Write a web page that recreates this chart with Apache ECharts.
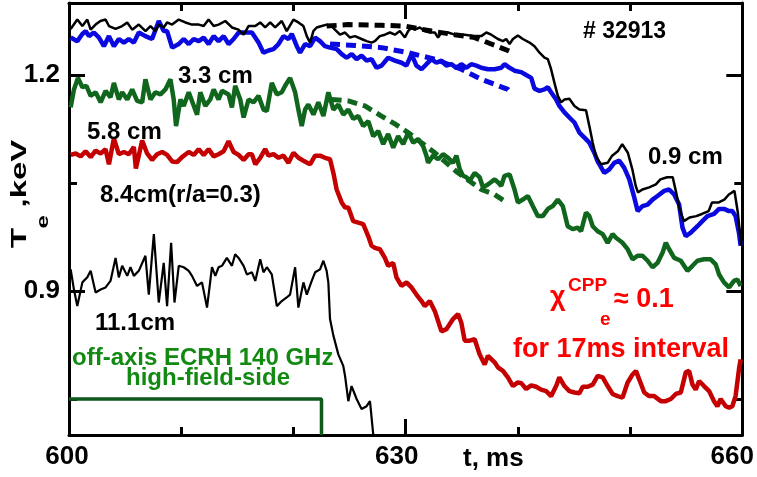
<!DOCTYPE html>
<html><head><meta charset="utf-8">
<script src="https://cdn.jsdelivr.net/npm/echarts@6/dist/echarts.min.js"></script>
<style>html,body{margin:0;padding:0;background:#fff}#c{width:757px;height:477px}</style>
</head><body><div id="c"></div>
<script>
// ---- tick values ----
const xTickLabels = [600, 630, 660];
const yMajorTicks = [0.9, 1.2];
const yMinorTicks = [0.75, 1.05];

// ---- series data: [t (ms), Te (keV)] ----
const te09 = [[600.15,1.264],[600.74,1.277],[601.19,1.268],[601.63,1.277],[601.93,1.263],[602.37,1.270],[602.8,1.275],[603.26,1.277],[603.56,1.268],[604.15,1.264],[604.74,1.268],[605.19,1.273],[605.63,1.263],[606.22,1.270],[606.82,1.261],[607.26,1.268],[607.7,1.261],[608.0,1.270],[608.44,1.266],[608.74,1.273],[609.19,1.270],[609.78,1.277],[610.37,1.273],[610.96,1.270],[611.56,1.270],[612.0,1.268],[612.44,1.277],[612.89,1.268],[613.33,1.270],[613.93,1.275],[614.52,1.266],[615.1,1.263],[615.56,1.256],[616.0,1.268],[616.6,1.268],[617.04,1.273],[617.48,1.266],[617.93,1.273],[618.37,1.266],[618.96,1.275],[619.4,1.261],[620.0,1.277],[620.44,1.273],[620.89,1.268],[621.19,1.254],[621.48,1.245],[621.78,1.261],[622.07,1.266],[622.52,1.268],[622.96,1.270],[623.4,1.268],[623.7,1.263],[624.15,1.256],[624.6,1.259],[625.04,1.252],[625.48,1.254],[626.07,1.250],[626.52,1.247],[626.96,1.245],[627.26,1.247],[627.7,1.254],[628.15,1.256],[628.6,1.259],[629.04,1.256],[629.48,1.261],[629.93,1.252],[630.22,1.261],[630.52,1.266],[630.81,1.263],[631.26,1.266],[631.7,1.261],[632.15,1.259],[632.6,1.259],[632.89,1.252],[633.19,1.259],[633.78,1.259],[634.37,1.256],[635.26,1.256],[636.15,1.254],[636.74,1.254],[637.19,1.259],[637.63,1.256],[638.22,1.250],[638.67,1.247],[638.96,1.250],[639.26,1.243],[639.56,1.250],[640.0,1.255],[640.44,1.250],[641.04,1.245],[641.48,1.240],[641.93,1.231],[642.37,1.224],[642.67,1.222],[642.96,1.208],[643.26,1.189],[643.56,1.171],[643.85,1.162],[644.15,1.166],[644.59,1.167],[645.04,1.157],[645.48,1.152],[646.07,1.151],[646.37,1.129],[646.67,1.106],[646.96,1.087],[647.4,1.076],[648.0,1.078],[648.4,1.088],[648.9,1.094],[649.3,1.104],[649.8,1.092],[650.2,1.069],[650.5,1.046],[650.7,1.037],[651.1,1.041],[651.7,1.044],[652.3,1.048],[652.7,1.055],[653.3,1.058],[653.8,1.058],[654.1,1.037],[654.4,1.014],[654.8,0.997],[655.3,1.002],[655.9,1.004],[656.4,1.007],[657.0,1.011],[657.3,1.023],[657.9,1.023],[658.4,1.027],[658.8,1.034],[659.3,1.039],[659.6,1.009],[659.9,0.963]];

const te33 = [[600.15,1.252],[600.74,1.247],[601.19,1.257],[601.48,1.261],[601.78,1.254],[602.22,1.259],[602.67,1.252],[603.11,1.240],[603.56,1.254],[604.0,1.240],[604.44,1.250],[604.89,1.245],[605.33,1.250],[605.78,1.245],[606.22,1.259],[606.81,1.254],[607.4,1.250],[608.0,1.275],[608.44,1.261],[608.74,1.261],[609.19,1.238],[609.78,1.243],[610.22,1.250],[610.67,1.243],[611.11,1.250],[611.56,1.247],[612.0,1.252],[612.44,1.243],[612.89,1.254],[613.33,1.247],[613.78,1.254],[614.22,1.243],[614.67,1.250],[615.11,1.259],[615.7,1.259],[616.3,1.259],[616.89,1.245],[617.33,1.231],[617.78,1.234],[618.22,1.236],[618.67,1.243],[619.11,1.254],[619.56,1.250],[619.85,1.257],[620.3,1.240],[620.59,1.231],[621.04,1.243],[621.48,1.240],[621.93,1.252],[622.37,1.247],[622.81,1.240],[623.26,1.238],[623.85,1.236],[624.3,1.229],[624.74,1.224],[625.19,1.229],[625.63,1.222],[626.07,1.227],[626.52,1.220],[626.96,1.222],[627.41,1.210],[627.85,1.213],[628.44,1.224],[629.04,1.220],[629.63,1.217],[630.07,1.213],[630.52,1.229],[630.96,1.213],[631.41,1.208],[631.85,1.215],[632.3,1.222],[632.74,1.217],[633.19,1.220],[633.63,1.213],[634.07,1.215],[634.52,1.210],[634.96,1.215],[635.41,1.210],[635.85,1.215],[636.3,1.213],[636.74,1.210],[637.33,1.208],[637.93,1.208],[638.52,1.210],[638.81,1.215],[639.26,1.210],[639.7,1.206],[640.3,1.204],[640.74,1.200],[641.19,1.196],[641.48,1.181],[641.93,1.178],[642.37,1.180],[642.67,1.183],[642.96,1.176],[643.41,1.166],[643.7,1.157],[644.15,1.148],[644.59,1.141],[645.04,1.134],[645.48,1.120],[645.93,1.113],[646.37,1.106],[646.81,1.092],[647.11,1.080],[647.7,1.064],[648.15,1.069],[648.59,1.078],[649.04,1.081],[649.48,1.071],[649.93,1.055],[650.37,1.030],[650.67,1.011],[651.11,1.018],[651.56,1.020],[652.0,1.027],[652.44,1.032],[653.04,1.039],[653.48,1.041],[653.93,1.034],[654.37,1.020],[654.67,0.988],[654.96,0.976],[655.41,0.981],[656.0,0.990],[656.44,0.997],[656.89,1.004],[657.48,1.007],[657.93,1.014],[658.37,1.014],[658.81,1.011],[659.11,1.011],[659.4,1.004],[659.7,0.981],[659.85,0.963]];

const te58 = [[600.15,1.155],[600.44,1.180],[600.8,1.196],[601.19,1.183],[601.55,1.185],[601.93,1.171],[602.37,1.176],[602.82,1.162],[603.26,1.178],[603.7,1.169],[604.0,1.189],[604.44,1.166],[604.74,1.176],[605.19,1.166],[605.63,1.180],[606.07,1.164],[606.52,1.162],[606.81,1.194],[607.26,1.166],[607.7,1.176],[608.15,1.173],[608.59,1.180],[609.04,1.194],[609.33,1.166],[609.54,1.129],[609.93,1.166],[610.22,1.157],[610.67,1.176],[610.96,1.164],[611.41,1.145],[611.7,1.176],[612.15,1.157],[612.59,1.166],[612.89,1.180],[613.33,1.166],[613.63,1.178],[614.22,1.173],[614.52,1.155],[614.81,1.185],[615.26,1.166],[615.56,1.141],[616.0,1.166],[616.44,1.162],[616.89,1.171],[617.33,1.152],[617.63,1.150],[618.07,1.189],[618.52,1.173],[618.96,1.176],[619.26,1.185],[619.7,1.196],[620.15,1.176],[620.44,1.152],[620.74,1.129],[621.04,1.152],[621.33,1.159],[621.78,1.145],[622.22,1.162],[622.67,1.143],[623.11,1.176],[623.56,1.152],[624.0,1.159],[624.44,1.145],[624.89,1.152],[625.33,1.139],[625.78,1.143],[626.22,1.129],[626.67,1.136],[627.11,1.115],[627.56,1.122],[628.0,1.104],[628.44,1.118],[628.89,1.099],[629.33,1.115],[629.78,1.104],[630.22,1.120],[630.67,1.106],[631.11,1.111],[631.56,1.101],[631.85,1.088],[632.0,1.078],[632.44,1.088],[632.89,1.083],[633.33,1.090],[633.78,1.085],[634.22,1.078],[634.52,1.088],[634.82,1.069],[635.11,1.060],[635.41,1.058],[635.7,1.053],[636.15,1.064],[636.59,1.058],[636.89,1.044],[637.33,1.048],[637.93,1.055],[638.22,1.051],[638.52,1.046],[638.81,1.060],[639.26,1.062],[639.7,1.041],[640.0,1.023],[640.44,1.027],[640.89,1.032],[641.33,1.018],[641.78,1.004],[642.22,1.004],[642.67,1.014],[643.11,1.018],[643.56,1.027],[644.0,1.018],[644.44,0.990],[644.89,0.986],[645.33,0.988],[645.63,0.983],[646.07,1.009],[646.37,1.004],[646.67,0.990],[647.11,0.983],[647.56,0.979],[648.0,0.967],[648.44,0.979],[648.74,0.974],[649.33,0.967],[649.78,0.958],[650.22,0.944],[650.67,0.949],[651.11,0.949],[651.56,0.942],[652.0,0.933],[652.44,0.939],[652.89,0.953],[653.18,0.967],[653.48,0.958],[653.93,0.946],[654.52,0.942],[655.11,0.928],[655.56,0.935],[656.0,0.942],[656.59,0.944],[657.18,0.944],[657.63,0.937],[657.93,0.923],[658.37,0.912],[658.82,0.905],[659.26,0.914],[659.56,0.916],[659.85,0.907]];

const te84 = [[600.15,1.089],[600.6,1.091],[601.04,1.087],[601.48,1.094],[601.93,1.086],[602.37,1.095],[602.82,1.091],[603.26,1.097],[603.56,1.076],[604.0,1.112],[604.44,1.090],[604.89,1.093],[605.33,1.090],[605.78,1.100],[605.96,1.070],[606.52,1.109],[606.96,1.091],[607.4,1.082],[607.85,1.090],[608.3,1.093],[608.74,1.089],[609.19,1.080],[609.63,1.079],[610.07,1.086],[610.67,1.093],[611.11,1.089],[611.56,1.097],[612.0,1.089],[612.44,1.097],[612.89,1.087],[613.33,1.090],[613.78,1.094],[614.22,1.108],[614.67,1.093],[615.11,1.089],[615.56,1.082],[616.0,1.090],[616.3,1.090],[616.6,1.076],[617.04,1.085],[617.48,1.097],[617.78,1.088],[618.22,1.090],[618.67,1.085],[619.11,1.088],[619.56,1.078],[620.0,1.092],[620.44,1.085],[620.89,1.081],[621.48,1.076],[621.93,1.088],[622.37,1.088],[622.81,1.085],[623.26,1.083],[623.56,1.064],[623.85,1.041],[624.3,1.023],[624.6,1.016],[624.89,1.016],[625.33,0.997],[625.78,0.995],[626.22,0.993],[626.67,0.976],[626.96,0.963],[627.26,0.960],[627.7,0.958],[628.15,0.946],[628.44,0.935],[628.89,0.939],[629.18,0.919],[629.63,0.907],[630.07,0.912],[630.52,0.905],[630.96,0.895],[631.41,0.886],[631.7,0.879],[632.15,0.886],[632.6,0.872],[633.19,0.844],[633.63,0.847],[634.22,0.861],[634.67,0.868],[634.96,0.856],[635.26,0.831],[635.7,0.831],[636.15,0.833],[636.59,0.812],[637.04,0.798],[637.33,0.810],[637.93,0.801],[638.22,0.794],[638.67,0.789],[639.11,0.780],[639.56,0.768],[640.0,0.773],[640.3,0.772],[640.74,0.764],[641.19,0.769],[641.63,0.767],[642.07,0.763],[642.52,0.761],[642.96,0.754],[643.41,0.768],[643.7,0.780],[644.15,0.768],[644.59,0.761],[645.04,0.759],[645.48,0.758],[645.78,0.767],[646.22,0.767],[646.67,0.770],[647.11,0.782],[647.56,0.780],[648.0,0.768],[648.44,0.757],[648.89,0.754],[649.33,0.752],[649.78,0.773],[650.22,0.784],[650.52,0.789],[650.82,0.777],[651.26,0.759],[651.7,0.754],[652.15,0.754],[652.74,0.747],[653.18,0.747],[653.63,0.750],[654.07,0.757],[654.52,0.759],[654.96,0.787],[655.26,0.789],[655.56,0.770],[655.85,0.763],[656.15,0.775],[656.59,0.768],[657.04,0.761],[657.48,0.747],[657.78,0.740],[658.07,0.750],[658.52,0.740],[658.82,0.738],[659.11,0.740],[659.4,0.754],[659.7,0.791],[659.85,0.805]];

const te111 = [[600.15,0.930],[600.44,0.902],[600.74,0.879],[601.19,0.912],[601.63,0.919],[601.93,0.928],[602.37,0.898],[602.82,0.902],[603.26,0.905],[603.7,0.914],[604.15,0.946],[604.44,0.919],[604.74,0.935],[605.19,0.921],[605.48,0.933],[605.78,0.921],[606.22,0.928],[606.81,0.949],[607.11,0.895],[607.56,0.979],[608.0,0.884],[608.44,0.939],[608.74,0.879],[609.1,0.967],[609.4,0.884],[609.78,0.935],[610.22,0.933],[610.67,0.928],[610.96,0.921],[611.41,0.907],[611.85,0.912],[612.3,0.877],[612.74,0.933],[613.04,0.921],[613.33,0.933],[613.63,0.935],[614.07,0.946],[614.52,0.935],[614.81,0.951],[615.11,0.946],[615.56,0.935],[615.85,0.923],[616.3,0.926],[616.6,0.914],[617.04,0.944],[617.33,0.926],[617.63,0.933],[618.07,0.923],[618.52,0.879],[618.96,0.886],[619.4,0.891],[619.7,0.895],[620.15,0.933],[620.44,0.877],[620.89,0.912],[621.19,0.895],[621.63,0.914],[621.93,0.926],[622.37,0.930],[622.67,0.942],[622.96,0.928],[623.11,0.912],[623.26,0.861],[623.56,0.838],[624.0,0.812],[624.44,0.796],[624.6,0.782],[624.89,0.747],[625.18,0.768],[625.63,0.750],[626.07,0.736],[626.52,0.740],[626.82,0.747],[627.11,0.701],[627.3,0.680]];

// dashed extrapolations
const dash09 = [[622.96,1.268],[624.89,1.270],[627.85,1.269],[629.93,1.268],[632.3,1.261],[634.37,1.256],[636.15,1.252],[637.63,1.243],[639.11,1.234],[639.4,1.232]];
const dash33 = [[623.26,1.243],[625.48,1.241],[627.85,1.238],[630.22,1.231],[632.6,1.222],[634.96,1.208],[636.74,1.194],[637.93,1.187],[639.11,1.180],[639.4,1.175]];
const dash58 = [[623.4,1.166],[624.89,1.164],[626.37,1.157],[627.85,1.143],[629.04,1.132],[630.22,1.120],[631.41,1.106],[632.6,1.092],[634.5,1.066],[636.74,1.041],[637.93,1.034],[638.81,1.025]];

// ECRH on/off indicator
const ecrh = [[600,0.75],[622.5,0.75],[622.5,0.70]];

const FONT = '"Liberation Sans", Arial, sans-serif';
const chart = echarts.init(document.getElementById('c'), null, {renderer: 'canvas'});

function line(data, color, width, dashed, z) {
  return {
    type: 'line', data: data, showSymbol: false, symbol: 'none', clip: true, z: z || 2,
    lineStyle: {color: color, width: width, type: dashed ? [10, 6] : 'solid'},
    animation: false, silent: true
  };
}

const axisLineStyle = {color: '#000', width: 3};
function xAx(pos, showLabel) {
  return {
    type: 'value', position: pos, min: 600, max: 660, interval: 30,
    axisLine: {show: true, onZero: false, lineStyle: axisLineStyle},
    axisTick: {show: true, inside: true, length: 16, lineStyle: {color: '#000', width: 3}},
    minorTick: {show: true, splitNumber: 3, length: 8, lineStyle: {color: '#000', width: 3}},
    splitLine: {show: false}, minorSplitLine: {show: false},
    axisLabel: {
      show: showLabel, margin: 9, color: '#000', fontSize: 26, fontWeight: 'bold', fontFamily: FONT,
      formatter: v => xTickLabels.indexOf(v) >= 0 ? '{l' + v + '|' + v + '}' : '',
      rich: {
        l600: {fontSize: 26, fontWeight: 'bold', fontFamily: FONT, color: '#000', padding: [0, 4, 0, 0]},
        l630: {fontSize: 26, fontWeight: 'bold', fontFamily: FONT, color: '#000', padding: [0, 18, 0, 0]},
        l660: {fontSize: 26, fontWeight: 'bold', fontFamily: FONT, color: '#000', padding: [0, 20, 0, 0]}
      }
    }
  };
}
function yAx(pos, ticks, len, showLine, showLabel) {
  return {
    type: 'value', position: pos, min: 0.7, max: 1.3,
    axisLine: {show: showLine, onZero: false, lineStyle: axisLineStyle},
    axisTick: {show: true, inside: true, length: len, customValues: ticks, lineStyle: {color: '#000', width: 3}},
    splitLine: {show: false},
    axisLabel: {
      show: showLabel, customValues: ticks, margin: 9, color: '#000', fontSize: 26, fontWeight: 'bold', fontFamily: FONT,
      formatter: v => v.toFixed(1)
    }
  };
}

const txt = (t, x, y, size, color, extra) => Object.assign({
  type: 'text', x: x, y: y, silent: true, z: 50,
  style: {text: t, font: 'bold ' + size + 'px ' + FONT, fill: color, align: 'left', verticalAlign: 'middle', textAlign: 'left', textVerticalAlign: 'middle'}
}, extra || {});

const option = {
  backgroundColor: '#fff',
  animation: false,
  grid: {left: 69, right: 11, top: 3, bottom: 42, containLabel: false},
  xAxis: [xAx('bottom', true), xAx('top', false)],
  yAxis: [
    yAx('left', yMajorTicks, 16, true, true),
    yAx('left', yMinorTicks, 8, false, false),
    yAx('right', yMajorTicks, 16, true, false),
    yAx('right', yMinorTicks, 8, false, false)
  ],
  series: [
    line(ecrh, '#0d5a1c', 3.5, false, 3),
    line(te84, '#c40000', 4.5, false, 4),
    line(te58, '#10661c', 4.5, false, 4),
    line(te33, '#0a0ae0', 4.5, false, 5),
    line(te111, '#000', 2.2, false, 6),
    line(te09, '#000', 2.5, false, 6),
    line(dash58, '#10661c', 5, true, 7),
    line(dash33, '#0a0ae0', 5, true, 7),
    line(dash09, '#000', 5, true, 7)
  ],
  graphic: [
    txt('# 32913', 583, 32, 23, '#000'),
    txt('3.3 cm', 178, 76, 24, '#000'),
    txt('5.8 cm', 87, 132, 24, '#000'),
    txt('8.4cm(r/a=0.3)', 100, 195, 24, '#000'),
    txt('0.9 cm', 648, 157, 24, '#000'),
    txt('11.1cm', 95, 323, 24, '#000'),
    txt('off-axis ECRH 140 GHz', 72, 358, 24, '#128a12'),
    txt('high-field-side', 126, 378, 24, '#128a12'),
    txt('\u03c7', 550, 298, 27, '#ff0000'),
    txt('CPP', 568, 286, 19, '#ff0000'),
    txt('e', 600, 320, 19, '#ff0000'),
    txt('\u2248 0.1', 614, 300, 27, '#ff0000'),
    txt('for 17ms interval', 513, 350, 27, '#ff0000'),
    txt('t, ms', 463, 459, 26, '#000'),
    {
      type: 'group', x: 27, y: 248, rotation: Math.PI / 2, scaleX: 1.5, silent: true, z: 50,
      children: [
        txt('T', 0, -7.5, 22, '#000'),
        txt('e', 13, 17, 16, '#000'),
        txt(',keV', 27, -7.5, 22, '#000')
      ]
    }
  ]
};
chart.setOption(option);
</script></body></html>
